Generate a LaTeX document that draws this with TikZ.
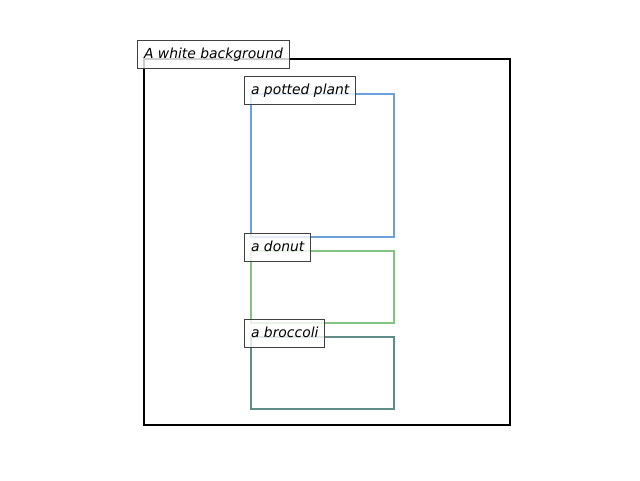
\documentclass[tikz,border=0pt]{standalone}
\usepackage{fontspec}
\setmainfont{DejaVu Sans}
\definecolor{plantblue}{RGB}{106,160,220}
\definecolor{donutgreen}{RGB}{130,196,128}
\definecolor{broccoliteal}{RGB}{96,140,136}
\definecolor{labeledge}{RGB}{64,64,64}
\begin{document}
\begin{tikzpicture}[x=1pt,y=-1pt,
  region/.style={line width=2.2pt},
  tag/.style={draw=labeledge, line width=1pt, fill=white, fill opacity=0.8, text opacity=1,
    anchor=west, inner xsep=6.5pt, inner ysep=0pt, minimum height=28pt,
    font=\fontsize{13.9}{16}\selectfont\itshape, text height=12pt, text depth=3pt}]
  \useasboundingbox (0,0) rectangle (640,480);
  % regions
  \draw[region, black] (144,59) rectangle (510,425);
  \draw[region, plantblue] (251,94) rectangle (394,237);
  \draw[region, donutgreen] (251,251) rectangle (394,323);
  \draw[region, broccoliteal] (251,337) rectangle (394,409);
  % captions
  \node[tag] (bg) at (137,54) {A white background};
  \node[tag] (plant) at (244,90) {a potted plant};
  \node[tag] (donut) at (244,247) {a donut};
  \node[tag] (broccoli) at (244,333) {a broccoli};
\end{tikzpicture}
\end{document}
